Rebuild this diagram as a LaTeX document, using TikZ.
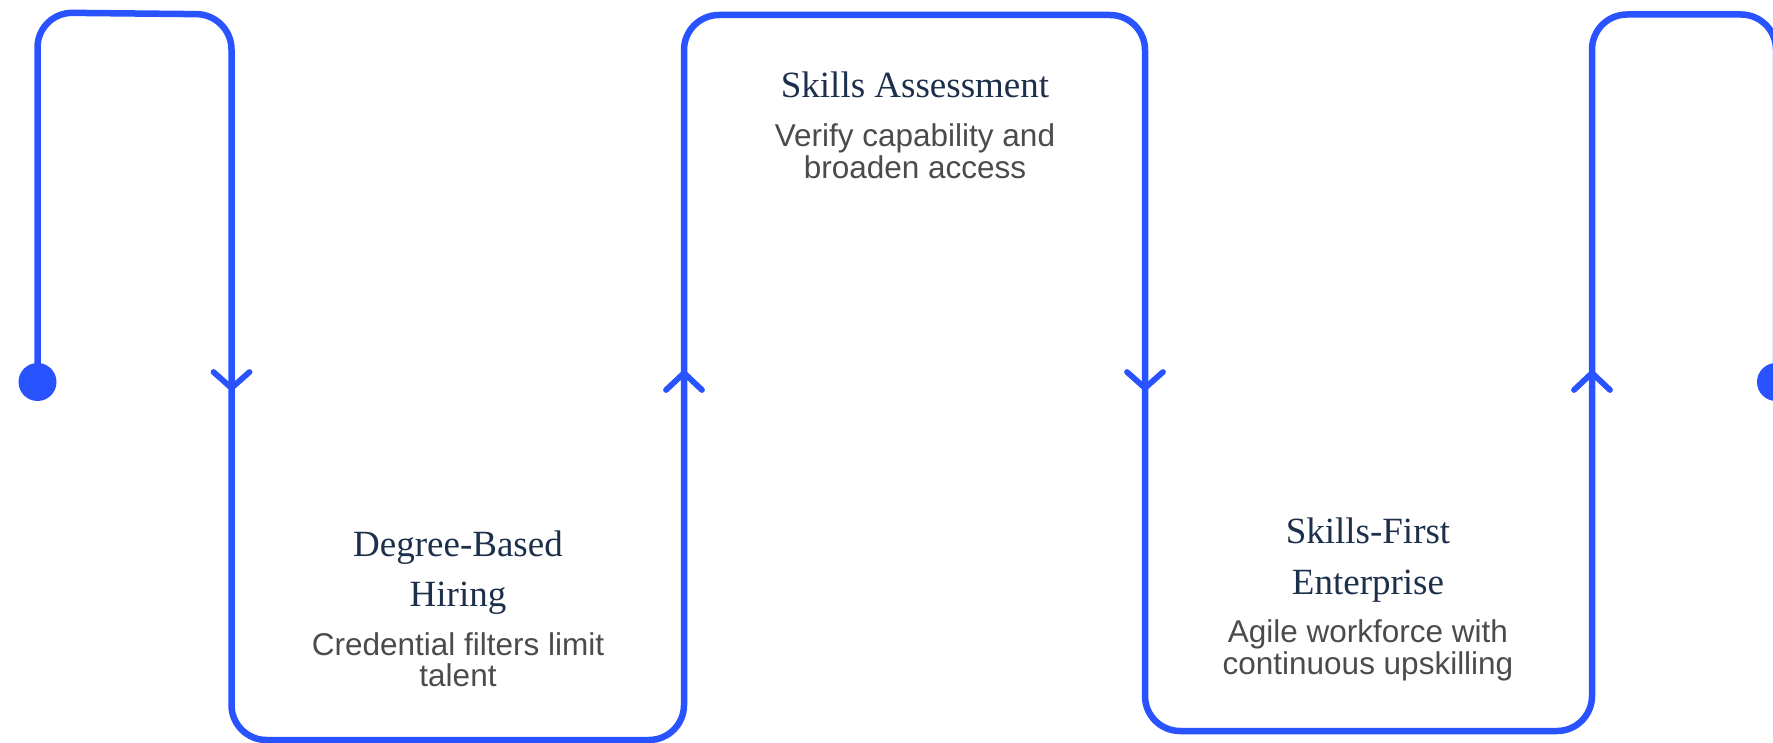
\documentclass[tikz,border=0pt]{standalone}
\usepackage{fontspec}
\setmainfont{Liberation Serif}
\newfontfamily\descfont{Liberation Sans}
\definecolor{flow}{HTML}{2853FF}
\definecolor{titleink}{HTML}{1C2F4B}
\definecolor{descink}{HTML}{4B4B4B}
\begin{document}
\begin{tikzpicture}[x=1pt,y=-1pt,
  flowline/.style={draw=flow,line width=6.5pt,rounded corners=35pt},
  chevron/.style={draw=flow,line width=5.8pt,line cap=round,line join=miter},
  titletext/.style={anchor=base,inner sep=0pt,text=titleink,font=\fontsize{37}{44}\selectfont},
  desctext/.style={anchor=base,inner sep=0pt,text=descink,font=\descfont\fontsize{31.5}{36}\selectfont}]
\useasboundingbox (0,0) rectangle (1773,743);

% start and end dots of the path
\coordinate (start) at (37.5,382);
\coordinate (finish) at (1776,382);
% corner points of the meandering path
\coordinate (c1) at (37.5,12.5);
\coordinate (c2) at (231.5,14.5);
\coordinate (c3) at (231.5,740);
\coordinate (c4) at (684,740);
\coordinate (c5) at (684,15);
\coordinate (c6) at (1145,15);
\coordinate (c7) at (1145,731);
\coordinate (c8) at (1592,731);
\coordinate (c9) at (1592,14.5);
\coordinate (c10) at (1776,14.5);

\draw[flowline] (start) -- (c1) -- (c2) -- (c3) -- (c4) -- (c5) -- (c6)
  -- (c7) -- (c8) -- (c9) -- (c10) -- (finish);

\fill[flow] (start) circle (19pt);
\fill[flow] (finish) circle (19pt);

% direction chevrons
\coordinate (down1) at (231.5,388);
\coordinate (up1) at (684,373);
\coordinate (down2) at (1145,388);
\coordinate (up2) at (1592,373);
\draw[chevron] (down1) ++(-18,-16) -- (down1) -- ++(18,-16);
\draw[chevron] (down2) ++(-18,-16) -- (down2) -- ++(18,-16);
\draw[chevron] (up1) ++(-18,17) -- (up1) -- ++(18,17);
\draw[chevron] (up2) ++(-18,17) -- (up2) -- ++(18,17);

% stage 1
\node[titletext] (t1a) at (458,556) {Degree-Based};
\node[titletext] (t1b) at (458,606) {Hiring};
\node[desctext] (d1a) at (458,655) {Credential filters limit};
\node[desctext] (d1b) at (458,686) {talent};

% stage 2
\node[titletext] (t2a) at (915,97.5) {Skills Assessment};
\node[desctext] (d2a) at (915,146.5) {Verify capability and};
\node[desctext] (d2b) at (915,179) {broaden access};

% stage 3
\node[titletext] (t3a) at (1368,543) {Skills-First};
\node[titletext] (t3b) at (1368,594) {Enterprise};
\node[desctext] (d3a) at (1368,642) {Agile workforce with};
\node[desctext] (d3b) at (1368,674) {continuous upskilling};
\end{tikzpicture}
\end{document}
